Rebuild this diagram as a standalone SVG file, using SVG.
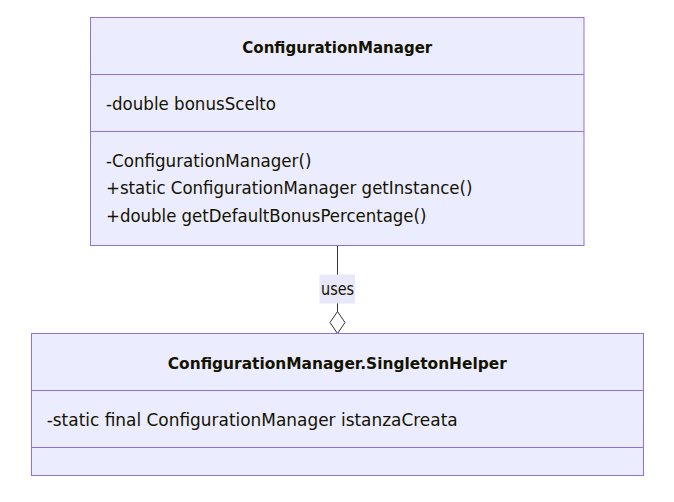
<svg xmlns="http://www.w3.org/2000/svg" width="674" height="502" viewBox="0 0 674 502">
<style>
.box{fill:#ECECFF;stroke:#9370DB;stroke-width:1}
.div{stroke:#9370DB;stroke-width:1}
.t{font-family:"DejaVu Sans","Liberation Sans",sans-serif;font-size:17px;fill:#131300}
.b{font-family:"DejaVu Sans","Liberation Sans",sans-serif;font-size:16px;font-weight:bold;fill:#131300;text-anchor:middle}
.edge{stroke:#333333;stroke-width:1;fill:none}
.agg{fill:#ffffff;stroke:#333333;stroke-width:1}
</style>
<rect width="674" height="502" fill="#ffffff"/>
<g id="connectors">
<path class="edge" d="M337.5,245.5 L337.5,311.5"/>
<path class="agg" d="M337.5,311.5 L345,322.5 L337.5,333.5 L330,322.5 Z"/>
<rect x="319.5" y="274.5" width="35.5" height="29" fill="#E8E8FA"/>
<text class="t" x="337.5" y="295" text-anchor="middle" textLength="33" lengthAdjust="spacingAndGlyphs">uses</text>
</g>
<g id="ConfigurationManager">
<rect class="box" x="90.5" y="17.5" width="493.5" height="228"/>
<line class="div" x1="90.5" y1="74.5" x2="584" y2="74.5"/>
<line class="div" x1="90.5" y1="131.5" x2="584" y2="131.5"/>
<text class="b" x="337.3" y="53" textLength="190" lengthAdjust="spacingAndGlyphs">ConfigurationManager</text>
<text class="t" x="106" y="110" textLength="170" lengthAdjust="spacingAndGlyphs">-double bonusScelto</text>
<text class="t" x="106" y="166.5" textLength="205.5" lengthAdjust="spacingAndGlyphs">-ConfigurationManager()</text>
<text class="t" x="106" y="194" textLength="366.5" lengthAdjust="spacingAndGlyphs">+static ConfigurationManager getInstance()</text>
<text class="t" x="106" y="221.5" textLength="320.5" lengthAdjust="spacingAndGlyphs">+double getDefaultBonusPercentage()</text>
</g>
<g id="SingletonHelper">
<rect class="box" x="31.5" y="333.5" width="612" height="142"/>
<line class="div" x1="31.5" y1="390.5" x2="643.5" y2="390.5"/>
<line class="div" x1="31.5" y1="447.5" x2="643.5" y2="447.5"/>
<text class="b" x="337.3" y="369" textLength="339" lengthAdjust="spacingAndGlyphs">ConfigurationManager.SingletonHelper</text>
<text class="t" x="46.7" y="426" textLength="411" lengthAdjust="spacingAndGlyphs">-static final ConfigurationManager istanzaCreata</text>
</g>
</svg>
